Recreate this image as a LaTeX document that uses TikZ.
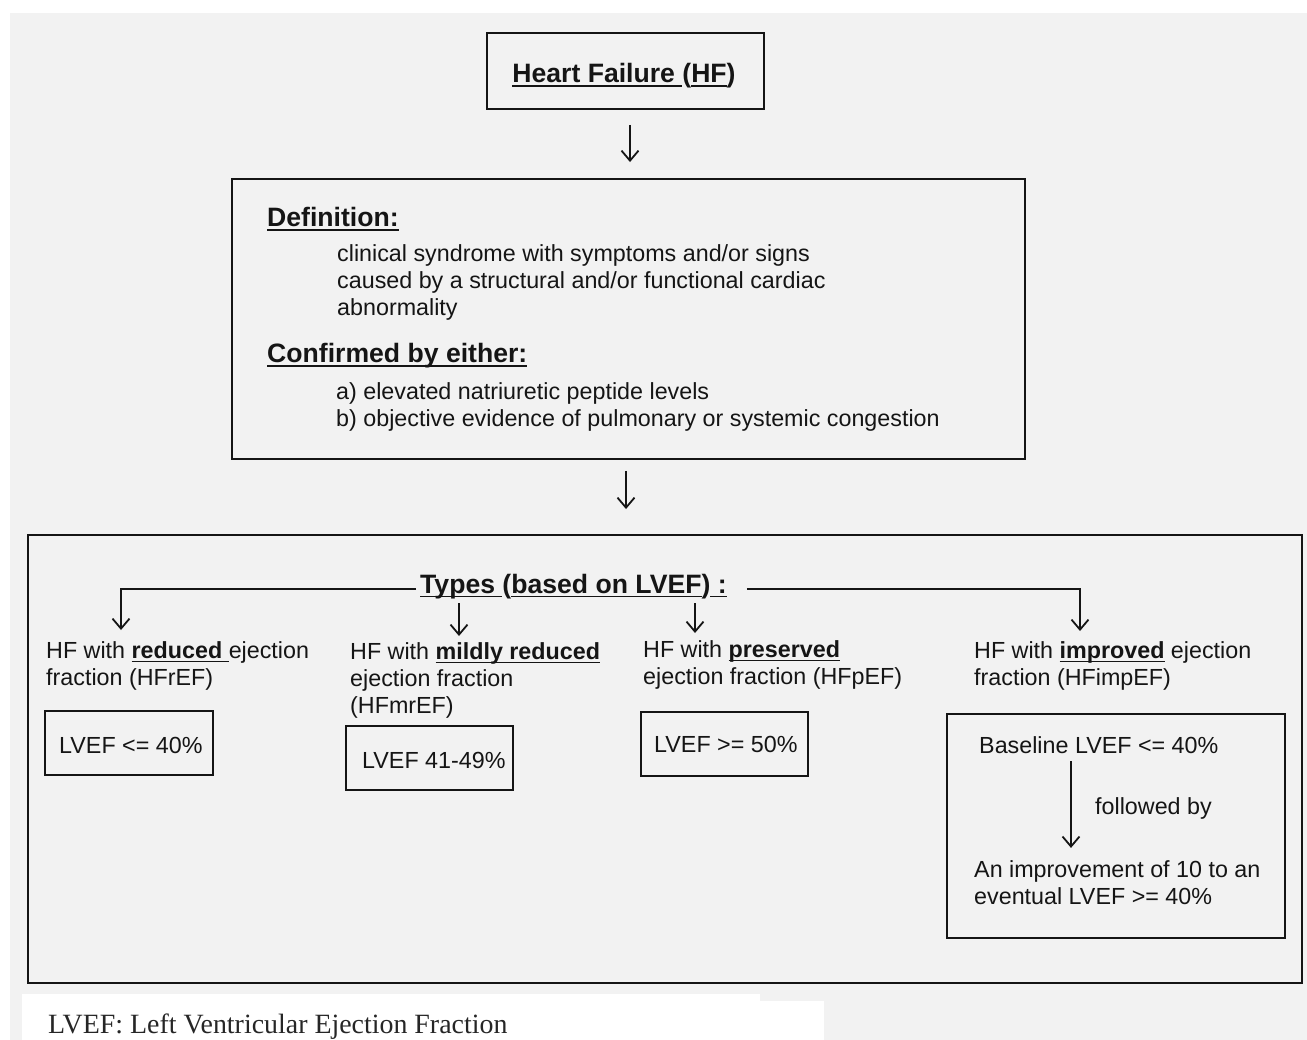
\documentclass[tikz,border=0pt]{standalone}
\usepackage{fontspec}
\setmainfont{Liberation Sans}
\newfontfamily\capfont{Liberation Serif}
\usetikzlibrary{arrows.meta}
\definecolor{bg}{HTML}{F2F2F2}
\definecolor{ink}{HTML}{151515}
\newsavebox\myulbox
\newcommand{\myul}[1]{\sbox\myulbox{#1}\rlap{\rule[-4pt]{\wd\myulbox}{1.5pt}}\usebox\myulbox}
\newcommand{\lines}[1]{\begin{tabular}[t]{@{}l@{}}#1\end{tabular}}
\tikzset{
  frame/.style={draw=ink, line width=1.9pt, inner sep=0pt},
  txt/.style={anchor=base west, inner sep=0pt, text=ink, font=\fontsize{23.3}{27}\selectfont},
  head/.style={anchor=base west, inner sep=0pt, text=ink, font=\fontsize{26.6}{30}\selectfont\bfseries},
  arr/.style={draw=ink, line width=1.8pt, -{Straight Barb[length=10pt,width=17pt]}},
}
\begin{document}
\begin{tikzpicture}[x=1pt,y=-1pt]
\useasboundingbox (0,0) rectangle (1307,1040);
\fill[white] (0,0) rectangle (1307,1040);
\fill[bg] (10,13) rectangle (1307,1040);
\fill[white] (22,994) rectangle (760,1040);
\fill[white] (760,1001) rectangle (824,1040);

% top box
\node[frame, minimum width=277pt, minimum height=76pt] (hf) at (625.5,71) {};
\node[head, anchor=base] (hft) at (624,83) {\myul{Heart Failure }(\myul{HF})};

% definition box
\node[frame, minimum width=793pt, minimum height=280pt] (def) at (628.5,319) {};
\node[head] (defh) at (267,227) {\myul{Definition:}};
\node[txt] (deft) at (337,262) {\lines{clinical syndrome with symptoms and/or signs\\caused by a structural and/or functional cardiac\\abnormality}};
\node[head] (confh) at (267,363) {\myul{Confirmed by either:}};
\node[txt] (conft) at (336,400) {\lines{a) elevated natriuretic peptide levels\\b) objective evidence of pulmonary or systemic congestion}};

% types box
\node[frame, minimum width=1274pt, minimum height=448pt] (tbox) at (665,759) {};
\node[head] (types) at (420,593) {\myul{Types }(\myul{based on LVEF})\myul{ :}};

\node[txt] (c1) at (46,658) {\lines{HF with \myul{\textbf{reduced} }ejection\\fraction (HFrEF)}};
\node[txt] (c2) at (350,659) {\lines{HF with \myul{\textbf{mildly reduced}}\\ejection fraction\\(HFmrEF)}};
\node[txt] (c3) at (643,657) {\lines{HF with \myul{\textbf{preserved}}\\ejection fraction (HFpEF)}};
\node[txt] (c4) at (974,658) {\lines{HF with \myul{\textbf{improved}} ejection\\fraction (HFimpEF)}};

\node[frame, minimum width=168pt, minimum height=64pt] (b1) at (129,743) {};
\node[txt] (b1t) at (59,753) {LVEF <= 40\%};
\node[frame, minimum width=167pt, minimum height=64pt] (b2) at (429.5,758) {};
\node[txt] (b2t) at (362,768) {LVEF 41-49\%};
\node[frame, minimum width=167pt, minimum height=64pt] (b3) at (724.5,744) {};
\node[txt] (b3t) at (654,752) {LVEF >= 50\%};
\node[frame, minimum width=338pt, minimum height=224pt] (b4) at (1116,826) {};
\node[txt] (b4a) at (979,753) {Baseline LVEF <= 40\%};
\node[txt] (fb) at (1095,814) {followed by};
\node[txt] (b4b) at (974,877) {\lines{An improvement of 10 to an\\eventual LVEF >= 40\%}};

% caption
\node[anchor=base west, inner sep=0pt, text=black!85, font=\capfont\fontsize{27.9}{30}\selectfont] (cap) at (48,1033) {LVEF: Left Ventricular Ejection Fraction};

% connectors
\coordinate (a1) at (630,0);
\coordinate (a2) at (626,0);
\draw[arr, shorten <=15pt, shorten >=16pt] (hf.south -| a1) -- (def.north -| a1);
\draw[arr, shorten <=11pt, shorten >=25pt] (def.south -| a2) -- (tbox.north -| a2);

\coordinate (t1) at (121,630);
\coordinate (t2) at (459,636);
\coordinate (t3) at (695,633);
\coordinate (t4) at (1080,631);
\draw[arr] ([shift={(-4,-4)}]types.base west) -| (t1);
\draw[arr] ([shift={(20,-4)}]types.base east) -| (t4);
\draw[arr, shorten <=10pt] (types.base west -| t2) -- (t2);
\draw[arr, shorten <=10pt] (types.base west -| t3) -- (t3);

\coordinate (fx) at (1071,0);
\draw[arr, shorten <=8pt, shorten >=10pt] (b4a.base west -| fx) -- (b4b.north -| fx);
\end{tikzpicture}
\end{document}
